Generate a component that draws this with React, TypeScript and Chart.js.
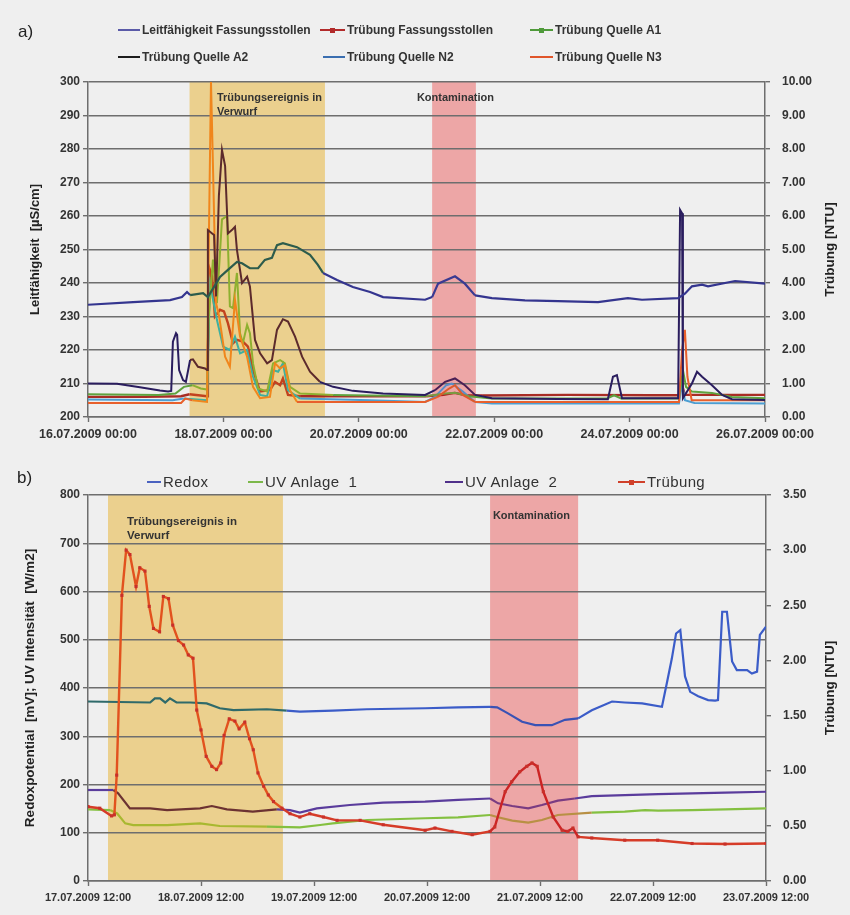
import React, { useEffect, useRef } from "react";
import { Chart, registerables } from "chart.js";

Chart.register(...registerables);

type P = [number, number];
const FONT = "'Liberation Sans', Arial, sans-serif";

// ================= Panel a) (x = hours since 16.07.2009 00:00) =================
const aXLabels = [
  "16.07.2009 00:00", "18.07.2009 00:00", "20.07.2009 00:00",
  "22.07.2009 00:00", "24.07.2009 00:00", "26.07.2009 00:00",
];
const aLeftTitle = "Leitfähigkeit  [µS/cm]";
const aRightTitle = "Trübung [NTU]";
const aYellowBand: P = [36, 84];
const aRedBand: P = [122, 137.5];
const aYellowText = ["Trübungsereignis in", "Verwurf"];
const aRedText = ["Kontamination"];

const aLegendNames = [
  "Leitfähigkeit Fassungsstollen", "Trübung Fassungsstollen", "Trübung Quelle A1",
  "Trübung Quelle A2", "Trübung Quelle N2", "Trübung Quelle N3",
];

// µS/cm (left axis)
const leitfaehigkeit: P[] = [
  [0, 233.5], [16, 234.3], [29.1, 234.9], [33.3, 235.8], [35.1, 237.3], [36.2, 236.4],
  [40.8, 237], [42.5, 235.8], [46.8, 241.8], [49.6, 243.9], [52.8, 246.3], [54.6, 245.9],
  [57.4, 244.4], [60.3, 244.4], [62.7, 246.9], [65.2, 247.5], [67, 251.3], [69.1, 251.9],
  [74.1, 250.7], [78.7, 248.4], [81.5, 245.4], [83.3, 243], [88.3, 240.9], [93.9, 238.8],
  [100, 237.3], [104.6, 235.8], [119.5, 235], [122, 235.8], [124.1, 239.8], [130.1, 242],
  [133.6, 239.8], [137.2, 236.3], [143.2, 235.5], [154.9, 234.8], [166.6, 234.6],
  [180.8, 234.3], [191.4, 235.5], [196.4, 235], [209.2, 235.5], [211.6, 236.8],
  [214.1, 239], [217.7, 239.5], [219.8, 239], [229.4, 240.6], [240, 239.8],
];
// NTU (right axis)
const truebungFassung: P[] = [
  [0, 0.6], [20, 0.6], [33, 0.62], [36, 0.68], [42.2, 0.62], [42.5, 2.0], [43.2, 4.4],
  [44.0, 4.2], [45.0, 3.0], [46.8, 3.2], [48.2, 3.15], [49.6, 2.8], [51.4, 2.2], [52.8, 2.3],
  [54.9, 2.25], [56.7, 2.1], [58.5, 1.4], [61.0, 0.76], [64.5, 0.8], [66.3, 1.05], [68.1, 0.95],
  [69.1, 1.15], [70.9, 0.66], [75.2, 0.62], [120, 0.62], [126, 0.66], [130, 0.72], [134, 0.65],
  [140, 0.64], [170, 0.66], [200, 0.65], [209.5, 0.65], [210.6, 0.95], [211.6, 0.66], [240, 0.66],
];
const truebungA1: P[] = [
  [0, 0.68], [25, 0.66], [31, 0.7], [34, 0.9], [37, 0.95], [40, 0.85], [42.2, 0.82], [42.8, 3.0],
  [44.3, 4.7], [45.7, 3.4], [47.5, 5.9], [49.3, 6.0], [50.3, 3.3], [51.4, 3.25], [52.8, 4.3],
  [53.9, 2.5], [54.9, 2.2], [56.4, 2.75], [57.4, 2.5], [58.5, 1.6], [60.3, 0.85], [63.5, 0.76],
  [65.6, 1.6], [68.1, 1.7], [69.8, 1.6], [71.6, 0.9], [75.2, 0.7], [86.9, 0.66], [119.5, 0.62],
  [126.6, 0.7], [130.1, 0.72], [135, 0.62], [143.2, 0.55], [184, 0.55], [186.5, 0.65], [189, 0.55],
  [209.5, 0.55], [210.9, 1.4], [212, 0.9], [214.1, 0.76], [221.2, 0.72], [228.3, 0.6], [240, 0.56],
];
const truebungA2: P[] = [
  [0, 1.0], [10.3, 0.99], [18.4, 0.89], [25.5, 0.79], [28.4, 0.76], [29.5, 0.78], [30.1, 2.25],
  [31.2, 2.5], [31.6, 2.45], [32.3, 1.4], [33.7, 1.1], [34.7, 1.05], [36.2, 1.7], [37.2, 1.72],
  [39.0, 1.5], [41.5, 1.45], [42.2, 1.4], [42.5, 5.58], [44.0, 5.48], [44.7, 5.43], [45.4, 3.6],
  [46.4, 6.6], [47.5, 7.97], [48.6, 7.5], [49.6, 5.48], [51.0, 5.58], [52.1, 5.68], [52.8, 4.99],
  [54.6, 4.0], [56.4, 4.19], [57.4, 3.9], [59.2, 2.3], [61.0, 1.9], [63.5, 1.6], [65.2, 1.7],
  [67.0, 2.6], [69.1, 2.92], [70.9, 2.85], [73.4, 2.4], [75.9, 1.8], [78.7, 1.35], [82.2, 1.05],
  [86.9, 0.9], [93.9, 0.78], [104.6, 0.7], [119.5, 0.66], [123.0, 0.8], [126.6, 1.05],
  [130.1, 1.15], [133.6, 0.95], [137.2, 0.66], [143.2, 0.56], [166.6, 0.54], [184.3, 0.53],
  [186.1, 1.2], [187.5, 1.25], [189.3, 0.56], [209.2, 0.56], [209.9, 6.18], [210.6, 6.08],
  [210.9, 0.56], [214.1, 1.0], [215.9, 1.35], [217.7, 1.2], [221.2, 0.95], [224.8, 0.66],
  [228.3, 0.53], [240, 0.51],
];
const truebungN2: P[] = [
  [0, 0.52], [30, 0.5], [34, 0.55], [42.2, 0.5], [42.8, 2.5], [43.2, 4.0], [45.7, 2.9],
  [47.9, 2.1], [50.3, 2.0], [52.1, 2.4], [53.9, 1.9], [56.4, 2.0], [58.5, 1.2], [61.0, 0.66],
  [63.5, 0.62], [65.6, 1.4], [67.4, 1.35], [69.1, 1.6], [70.9, 0.8], [75.2, 0.55], [100, 0.5],
  [119.5, 0.45], [123, 0.6], [127, 0.95], [129, 1.0], [133, 0.75], [137.2, 0.45], [143.2, 0.4],
  [209.5, 0.4], [210.6, 1.0], [211.6, 0.5], [215, 0.42], [240, 0.4],
];
const truebungN3: P[] = [
  [0, 0.42], [33, 0.42], [34.5, 0.55], [37, 0.5], [42.2, 0.45], [42.8, 5.0], [43.6, 10.0],
  [44.3, 7.5], [45.4, 3.4], [46.5, 3.0], [48.6, 1.8], [50.3, 1.5], [52.1, 3.5], [53.9, 2.4],
  [56.4, 1.8], [58.5, 0.9], [61.0, 0.56], [64.5, 0.6], [66.3, 1.6], [68.1, 1.45], [69.8, 1.55],
  [71.6, 0.8], [74.1, 0.45], [119.5, 0.45], [124, 0.6], [128, 0.85], [130.1, 0.95], [133, 0.65],
  [137.2, 0.45], [209.5, 0.45], [210.6, 2.0], [211.6, 2.6], [212.5, 1.2], [214, 0.5], [240, 0.5],
];

// ================= Panel b) (x = hours since 17.07.2009 12:00) =================
const bXLabels = [
  "17.07.2009 12:00", "18.07.2009 12:00", "19.07.2009 12:00", "20.07.2009 12:00",
  "21.07.2009 12:00", "22.07.2009 12:00", "23.07.2009 12:00",
];
const bLeftTitle = "Redoxpotential  [mV]; UV Intensität  [W/m2]";
const bRightTitle = "Trübung [NTU]";
const bYellowBand: P = [4.25, 41.4];
const bRedBand: P = [85.4, 104.1];
const bLegendNames = ["Redox", "UV Anlage  1", "UV Anlage  2", "Trübung"];

const redox: P[] = [
  [0, 372], [13.2, 370], [14.2, 378.6], [15.3, 378.6], [16.4, 370], [17.4, 378.6], [18.8, 370],
  [21.7, 370], [25.2, 368], [28, 358], [30.9, 354], [38, 356], [42.2, 353], [45, 351], [52, 353],
  [59.2, 356], [71.6, 358], [78.6, 360], [85.4, 361], [86.9, 360], [89.2, 347.5], [92.2, 330],
  [95, 323], [98.5, 323], [101.3, 334], [104.1, 337], [107, 354], [111.3, 372], [114, 370],
  [117.7, 368], [121.9, 361], [123, 413], [124, 461], [124.9, 513], [125.8, 520], [126.8, 424],
  [127.9, 392], [129.6, 383], [131.7, 375], [133.2, 374], [133.8, 375], [134.7, 558],
  [135.7, 558], [136.8, 455], [137.8, 437], [140, 437], [141, 430], [142.1, 434], [142.7, 510],
  [144, 527],
];
const uvAnlage1: P[] = [
  [0, 148.5], [4.7, 147], [6.2, 140], [7.9, 119.5], [9.6, 116], [16.8, 116], [23.8, 119.5],
  [28, 114], [38, 112.6], [45, 111], [49.3, 116], [52, 119.5], [59.3, 126.4], [71.6, 130],
  [78.6, 132], [85.4, 136.8], [87.1, 132], [90.1, 125], [93.5, 121], [96.4, 126.4], [99.8, 136.8],
  [107, 141.6], [114, 143.7], [118.3, 147], [121.1, 145.8], [128.3, 147], [135.3, 148.5],
  [144, 150.6],
];
const uvAnlage2: P[] = [
  [0, 188.6], [5.4, 188.6], [6.4, 181.7], [8.9, 150.6], [13.2, 150.6], [16.8, 147],
  [23.8, 150.6], [26.3, 155.4], [29.5, 148.5], [35, 143.7], [40.1, 148.5], [42.9, 147],
  [45, 141.6], [48.6, 150.6], [55.6, 157.5], [62.7, 162.3], [71.6, 164.4], [78.6, 168],
  [85.4, 171], [87.1, 161], [90.1, 155.4], [93.5, 150.6], [96.4, 157.5], [99.8, 166.5],
  [103.4, 171], [107, 176], [114, 178], [121.1, 180], [128.3, 181.7], [135.3, 183], [144, 185],
];
const truebungB: P[] = [
  [0, 0.674], [2.5, 0.66], [5.0, 0.59], [5.6, 0.6], [6.1, 0.96], [7.2, 2.59], [8.1, 3.0],
  [8.9, 2.96], [10.2, 2.67], [11, 2.84], [12.1, 2.81], [13, 2.49], [13.9, 2.29], [15.2, 2.26],
  [16, 2.58], [17.1, 2.56], [18, 2.32], [19.2, 2.18], [20.3, 2.14], [21.3, 2.05], [22.3, 2.02],
  [23.1, 1.55], [24, 1.37], [25.1, 1.13], [26.3, 1.04], [27.3, 1.01], [28.2, 1.07], [28.9, 1.32],
  [30, 1.47], [31.2, 1.45], [32.1, 1.38], [33.3, 1.44], [34.3, 1.29], [35.1, 1.19], [36.1, 0.98],
  [37.3, 0.86], [38.3, 0.78], [39.4, 0.72], [41.2, 0.66], [42.9, 0.61], [45, 0.58], [47.1, 0.61],
  [50, 0.58], [52.9, 0.55], [57.8, 0.55], [62.7, 0.51], [71.6, 0.46], [73.7, 0.48], [77.3, 0.45],
  [81.6, 0.42], [85.4, 0.45], [86.4, 0.49], [88.6, 0.81], [90, 0.9], [91.7, 0.99], [93.2, 1.04],
  [94.3, 1.07], [95.4, 1.04], [96.7, 0.81], [98.8, 0.58], [100.7, 0.46], [101.9, 0.45],
  [103, 0.48], [104.1, 0.4], [107, 0.39], [114, 0.37], [121, 0.37], [128.3, 0.34],
  [135.3, 0.335], [144, 0.34],
];

// ================= helpers =================
const GRID = "#6e6e6e";
const YELLOW = "#ebd08e";
const RED = "#eda6a6";

const segColor = (bands: P[], cols: string[]) => (ctx: any) => {
  const m = (ctx.p0.parsed.x + ctx.p1.parsed.x) / 2;
  for (let i = 0; i < bands.length; i++) {
    if (m >= bands[i][0] && m <= bands[i][1]) return cols[i + 1] || cols[0];
  }
  return cols[0];
};

const line = (label: string, pts: P[], axis: string, bands: P[], cols: string[], width: number, extra: any = {}) => ({
  label,
  data: pts.map(([x, y]) => ({ x, y })),
  yAxisID: axis,
  borderColor: cols[0],
  backgroundColor: cols[0],
  borderWidth: width,
  pointRadius: 0,
  tension: 0,
  fill: false,
  segment: { borderColor: segColor(bands, cols) },
  ...extra,
});

const overlayPlugin = {
  id: "overlay",
  beforeDraw(chart: any, _a: any, opts: any) {
    const { ctx, chartArea, scales } = chart;
    ctx.save();
    for (const b of opts.bands || []) {
      const x0 = scales.x.getPixelForValue(b.range[0]);
      const x1 = scales.x.getPixelForValue(b.range[1]);
      ctx.fillStyle = b.color;
      ctx.fillRect(x0, chartArea.top, x1 - x0, chartArea.bottom - chartArea.top);
    }
    ctx.restore();
  },
  afterDatasetsDraw(chart: any, _a: any, opts: any) {
    const { ctx, scales } = chart;
    ctx.save();
    ctx.fillStyle = "#333";
    ctx.textBaseline = "middle";
    ctx.textAlign = "left";
    for (const l of opts.labels || []) {
      ctx.font = l.font;
      const x = scales.x.getPixelForValue(l.x);
      const y = scales.y.getPixelForValue(l.y);
      l.lines.forEach((t: string, i: number) => ctx.fillText(t, x, y + i * l.lh));
    }
    ctx.restore();
  },
  afterDraw(chart: any, _a: any, opts: any) {
    const { ctx, chartArea } = chart;
    const cy = (chartArea.top + chartArea.bottom) / 2;
    ctx.save();
    ctx.fillStyle = "#222";
    ctx.textAlign = "center";
    ctx.textBaseline = "middle";
    for (const t of opts.titles || []) {
      ctx.save();
      ctx.font = t.font;
      ctx.translate(t.x, cy);
      ctx.rotate(-Math.PI / 2);
      ctx.fillText(t.text, 0, 0);
      ctx.restore();
    }
    ctx.restore();
  },
};

const tickFont = { family: FONT, size: 12, weight: "bold" as const };

const yScale = (min: number, max: number, step: number, width: number, pos: "left" | "right", onArea: boolean, fmt?: (v: number) => string, pad = 3) => ({
  type: "linear" as const,
  position: pos,
  min,
  max,
  afterFit: (s: any) => { s.width = width; },
  ticks: {
    stepSize: step,
    color: "#333",
    font: tickFont,
    padding: pad,
    callback: fmt ? (v: any) => fmt(Number(v)) : (v: any) => String(v),
  },
  grid: { color: GRID, lineWidth: 1.4, drawOnChartArea: onArea, drawTicks: true, tickLength: 5, tickColor: GRID, tickWidth: 1.4 },
  border: { display: true, color: GRID, width: 1.5 },
});

const xScale = (max: number, step: number, labels: string[], height: number, size: number) => ({
  type: "linear" as const,
  position: "bottom" as const,
  min: 0,
  max,
  afterFit: (s: any) => { s.height = height; },
  ticks: {
    stepSize: step,
    autoSkip: false,
    maxRotation: 0,
    color: "#333",
    font: { family: FONT, size, weight: "bold" as const },
    padding: 5,
    callback: (_v: any, i: number) => labels[i] ?? "",
  },
  grid: { drawOnChartArea: false, drawTicks: true, tickLength: 5, color: GRID, tickWidth: 1.4 },
  border: { display: true, color: GRID, width: 1.5 },
});

const fix2 = (v: number) => v.toFixed(2);

function configA(): any {
  const bands: P[] = [aYellowBand, aRedBand];
  return {
    type: "line",
    data: {
      datasets: [
        line(aLegendNames[0], leitfaehigkeit, "y", bands, ["#34358f", "#2d5c4c", "#3a3a92"], 2.2),
        line(aLegendNames[3], truebungA2, "y1", bands, ["#2a1d5e", "#5c2a2c", "#4a1f55"], 2),
        line(aLegendNames[5], truebungN3, "y1", bands, ["#e8602c", "#f0861c", "#e05a2a"], 2),
        line(aLegendNames[2], truebungA1, "y1", bands, ["#5ea23e", "#8eb030", "#7a9a40"], 2),
        line(aLegendNames[4], truebungN2, "y1", bands, ["#4c9ed2", "#3eb0a0", "#5a8ec8"], 2),
        line(aLegendNames[1], truebungFassung, "y1", bands, ["#a82c24", "#c2421e", "#b02020"], 2.4),
      ],
    },
    options: {
      responsive: false,
      animation: false,
      events: [],
      layout: { padding: { top: 82, left: 0, right: 0, bottom: 0 } },
      scales: {
        x: xScale(240, 48, aXLabels, 28, 12.5),
        y: yScale(200, 300, 10, 88, "left", true),
        y1: yScale(0, 10, 1, 85, "right", false, fix2, 12),
      },
      plugins: {
        legend: { display: false },
        tooltip: { enabled: false },
        overlay: {
          bands: [
            { range: aYellowBand, color: YELLOW },
            { range: aRedBand, color: RED },
          ],
          labels: [
            { x: 45.7, y: 295.2, lines: aYellowText, lh: 13.5, font: `bold 11px ${FONT}` },
            { x: 116.6, y: 295.2, lines: aRedText, lh: 13.5, font: `bold 11px ${FONT}` },
          ],
          titles: [
            { text: aLeftTitle, x: 35, font: `bold 13px ${FONT}` },
            { text: aRightTitle, x: 830, font: `bold 13.5px ${FONT}` },
          ],
        },
      },
    },
    plugins: [overlayPlugin],
  };
}

function configB(): any {
  const bands: P[] = [bYellowBand, bRedBand];
  return {
    type: "line",
    data: {
      datasets: [
        line(bLegendNames[3], truebungB, "y1", bands, ["#d63c28", "#e2521e", "#cc2424"], 2.4, {
          pointRadius: 2.2,
          pointStyle: "rect",
          pointBorderWidth: 0,
          pointBackgroundColor: "#c8302a",
        }),
        line(bLegendNames[0], redox, "y", bands, ["#3b5cc8", "#2f6a6a", "#3a52b4"], 2.2),
        line(bLegendNames[2], uvAnlage2, "y", bands, ["#5a3c9c", "#6c3232", "#7a3c82"], 2.2),
        line(bLegendNames[1], uvAnlage1, "y", bands, ["#84c040", "#a8b830", "#b89044"], 2.2),
      ],
    },
    options: {
      responsive: false,
      animation: false,
      events: [],
      layout: { padding: { top: 50, left: 0, right: 0, bottom: 0 } },
      scales: {
        x: xScale(144, 24, bXLabels, 34, 11),
        y: yScale(0, 800, 100, 88, "left", true),
        y1: yScale(0, 3.5, 0.5, 84, "right", false, fix2, 12),
      },
      plugins: {
        legend: { display: false },
        tooltip: { enabled: false },
        overlay: {
          bands: [
            { range: bYellowBand, color: YELLOW },
            { range: bRedBand, color: RED },
          ],
          labels: [
            { x: 8.3, y: 744, lines: aYellowText, lh: 13.5, font: `bold 11.5px ${FONT}` },
            { x: 86, y: 756.5, lines: aRedText, lh: 13.5, font: `bold 11px ${FONT}` },
          ],
          titles: [
            { text: bLeftTitle, x: 30, font: `bold 13.5px ${FONT}` },
            { text: bRightTitle, x: 830, font: `bold 13.5px ${FONT}` },
          ],
        },
      },
    },
    plugins: [overlayPlugin],
  };
}

function ChartCanvas({ top, height, make }: { top: number; height: number; make: () => any }) {
  const ref = useRef<HTMLCanvasElement>(null);
  useEffect(() => {
    const chart = new Chart(ref.current as HTMLCanvasElement, make());
    return () => chart.destroy();
  }, []);
  return (
    <canvas
      ref={ref}
      width={850}
      height={height}
      style={{ position: "absolute", left: 0, top, width: 850, height }}
    />
  );
}

type LegendItem = { name: string; color: string; lx: number; tx: number; y: number; marker?: boolean };

const legendItems: LegendItem[] = [
  { name: aLegendNames[0], color: "#5a5aa8", lx: 118, tx: 142, y: 30 },
  { name: aLegendNames[1], color: "#b22a2a", lx: 320, tx: 347, y: 30, marker: true },
  { name: aLegendNames[2], color: "#4f9a3a", lx: 530, tx: 555, y: 30, marker: true },
  { name: aLegendNames[3], color: "#1c1c1c", lx: 118, tx: 142, y: 57 },
  { name: aLegendNames[4], color: "#3a6eb0", lx: 323, tx: 347, y: 57 },
  { name: aLegendNames[5], color: "#e0552a", lx: 530, tx: 555, y: 57 },
  { name: bLegendNames[0], color: "#4a62c0", lx: 147, tx: 163, y: 482 },
  { name: bLegendNames[1], color: "#7cb84a", lx: 248, tx: 265, y: 482 },
  { name: bLegendNames[2], color: "#50308a", lx: 445, tx: 465, y: 482 },
  { name: bLegendNames[3], color: "#d0402a", lx: 618, tx: 647, y: 482, marker: true },
];

export default function App() {
  return (
    <div
      style={{
        position: "absolute",
        left: 0,
        top: 0,
        width: 850,
        height: 915,
        background: "#efefef",
        fontFamily: FONT,
        overflow: "hidden",
      }}
    >
      <ChartCanvas top={0} height={445} make={configA} />
      <ChartCanvas top={445} height={470} make={configB} />
      <div style={{ position: "absolute", left: 18, top: 22, fontSize: 17, color: "#222", lineHeight: "20px" }}>a)</div>
      <div style={{ position: "absolute", left: 17, top: 468, fontSize: 17, color: "#222", lineHeight: "20px" }}>b)</div>
      {legendItems.map((it, i) => {
        const big = it.y > 400;
        return (
          <div key={i} style={{ position: "absolute", left: it.lx, top: it.y - 9, height: 18, display: "flex", alignItems: "center" }}>
            <div style={{ position: "relative", width: it.tx - it.lx - 2, height: 2, background: it.color, marginRight: 2 }}>
              {it.marker && (
                <div style={{ position: "absolute", left: "50%", top: -1.5, width: 5, height: 5, marginLeft: -2.5, background: it.color }} />
              )}
            </div>
            <span
              style={{
                whiteSpace: "pre",
                fontSize: big ? 15 : 12,
                fontWeight: big ? "normal" : "bold",
                letterSpacing: big ? "0.4px" : "0px",
                color: "#333",
                lineHeight: "18px",
              }}
            >
              {it.name}
            </span>
          </div>
        );
      })}
    </div>
  );
}
